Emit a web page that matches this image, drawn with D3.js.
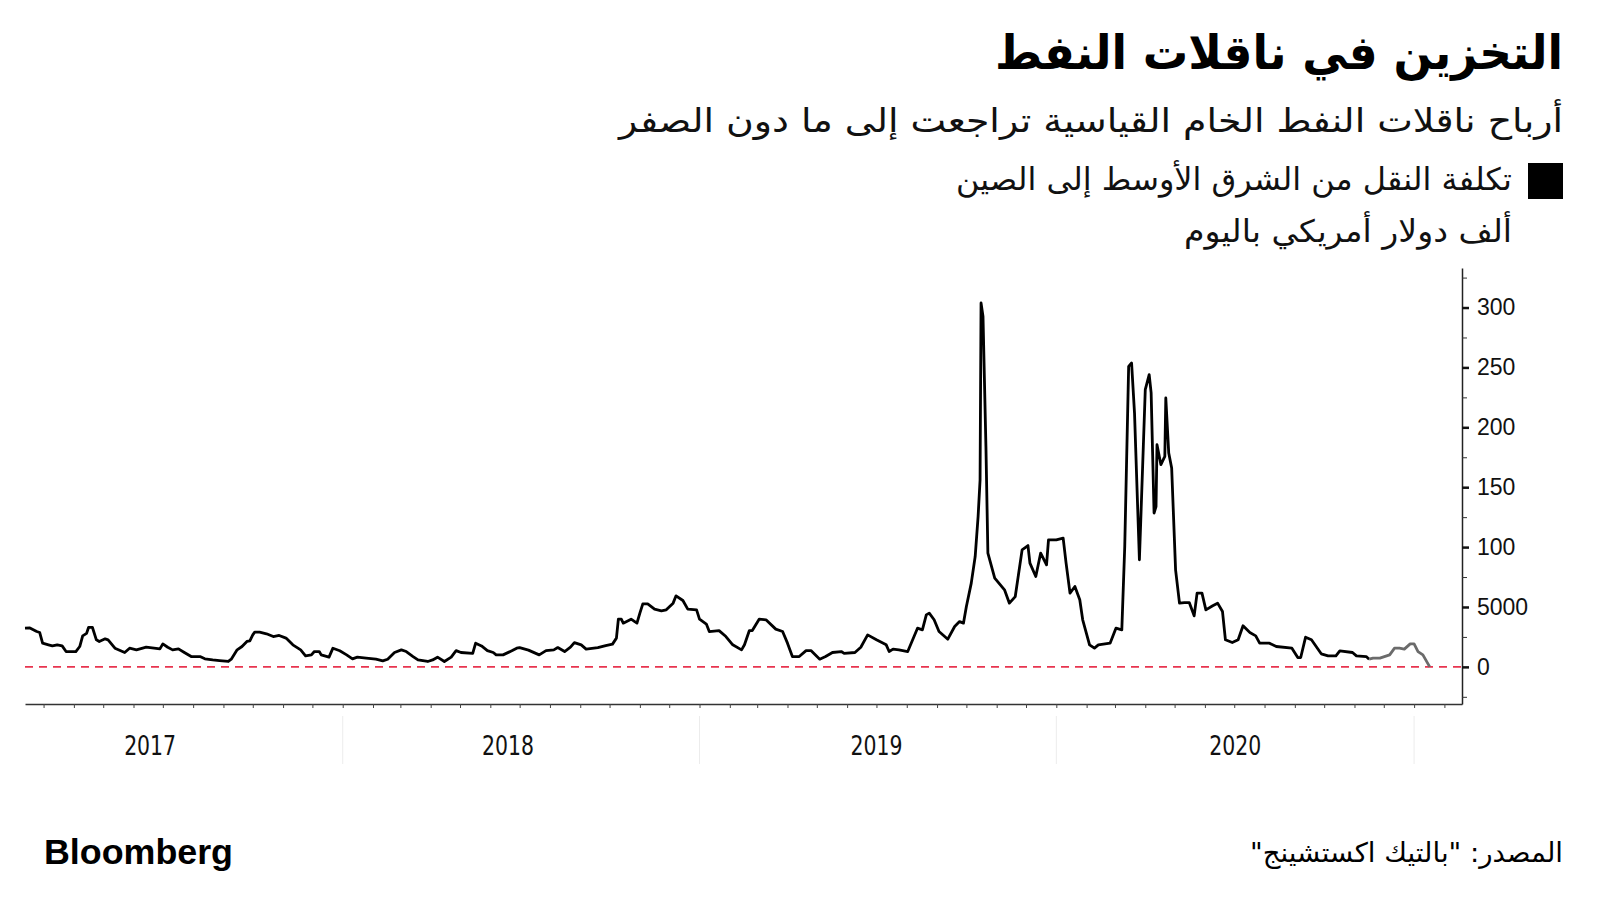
<!DOCTYPE html>
<html><head><meta charset="utf-8">
<script src="https://cdn.jsdelivr.net/npm/d3@7"></script>
<style>
html,body{margin:0;padding:0;background:#fff;}
svg{display:block;}
</style></head>
<body>
<script>
// ---- Data (thousand USD / day) ----
const dates2017 = [
"2017-02-10","2017-02-15","2017-02-22","2017-02-25","2017-02-28","2017-03-06","2017-03-10","2017-03-15","2017-03-20","2017-03-24",
"2017-04-03","2017-04-07","2017-04-10","2017-04-14","2017-04-16","2017-04-20","2017-04-24","2017-04-27","2017-05-03","2017-05-06",
"2017-05-13","2017-05-23","2017-05-28","2017-06-04","2017-06-14","2017-06-28","2017-07-01","2017-07-06","2017-07-11","2017-07-17",
"2017-07-23","2017-07-30","2017-08-08","2017-08-13","2017-08-21","2017-08-28","2017-09-06","2017-09-09","2017-09-15","2017-09-20",
"2017-09-25","2017-09-28","2017-10-01","2017-10-03","2017-10-08","2017-10-15","2017-10-22","2017-10-28","2017-11-04","2017-11-11",
"2017-11-19","2017-11-24","2017-11-30","2017-12-03","2017-12-08","2017-12-10","2017-12-18","2017-12-22","2017-12-29"];
const values2017 = [
32.3,32.5,29.5,28.7,19.8,18.4,17.5,18.4,17.5,12.8,
12.8,17,25.9,28,32.9,32.9,22.6,21.2,23.4,22.6,
15.6,12,15.6,14.2,16.4,15,19.2,16.4,14.2,15,
12,8.6,8.6,6.7,5.8,5.3,4.5,6.4,14.2,17,
21.2,21.7,26.7,29,29,27.6,25.3,26.2,24,18.4,
14.2,9.2,10,12.8,12.8,10,8.1,15.6,13.4];

const dates2018 = [
"2018-01-05","2018-01-11","2018-01-16","2018-01-25","2018-02-04","2018-02-11","2018-02-16","2018-02-23","2018-03-02","2018-03-07",
"2018-03-14","2018-03-19","2018-03-29","2018-04-03","2018-04-08","2018-04-15","2018-04-22","2018-04-27","2018-05-02","2018-05-14",
"2018-05-17","2018-05-23","2018-05-29","2018-06-04","2018-06-07","2018-06-14","2018-06-23","2018-06-28","2018-07-01","2018-07-10",
"2018-07-21","2018-07-28","2018-08-05","2018-08-09","2018-08-16","2018-08-22","2018-08-26","2018-09-02","2018-09-07","2018-09-19",
"2018-09-27","2018-10-04","2018-10-08","2018-10-10","2018-10-13","2018-10-15","2018-10-23","2018-10-29","2018-11-01","2018-11-04",
"2018-11-09","2018-11-16","2018-11-23","2018-11-28","2018-12-05","2018-12-08","2018-12-15","2018-12-20","2018-12-29"];
const values2018 = [
10,6.7,8.1,7.3,6.4,5,6.4,12,14.2,12.8,
8.6,5.8,4.5,5.8,8.1,4.5,8.1,13.6,12,11.2,
19.8,17.5,13.6,12,10,10,13.4,15.6,16.1,14,
10,13.6,14.2,16.1,12.8,16.4,20.3,18.4,14.8,16.1,
17.8,19,24,39.8,39.8,36.5,39.8,36.5,44.9,52.6,
52.6,48.2,46.8,47.6,53.2,59.3,55.4,48.2,47.6];

const dates2019 = [
"2019-01-01","2019-01-08","2019-01-11","2019-01-21","2019-01-28","2019-02-04","2019-02-13","2019-02-16","2019-02-21","2019-02-24",
"2019-03-03","2019-03-10","2019-03-20","2019-03-27","2019-04-01","2019-04-06","2019-04-13","2019-04-20","2019-04-25","2019-05-04",
"2019-05-10","2019-05-17","2019-05-26","2019-05-29","2019-06-09","2019-06-15","2019-06-22","2019-07-01","2019-07-11","2019-07-14",
"2019-07-18","2019-07-24","2019-08-02","2019-08-12","2019-08-17","2019-08-21","2019-08-24","2019-08-29","2019-09-03","2019-09-12",
"2019-09-19","2019-09-24","2019-09-28","2019-10-01","2019-10-06","2019-10-10","2019-10-13","2019-10-15","2019-10-16","2019-10-18",
"2019-10-21","2019-10-23","2019-10-30","2019-11-09","2019-11-14","2019-11-20","2019-11-27","2019-12-03","2019-12-05","2019-12-11",
"2019-12-16","2019-12-22","2019-12-24"];
const values2019 = [
39.8,35.7,29.5,30.3,25.3,18.4,14.2,18.4,30.3,30.3,
39.8,39.3,31.5,29.5,19.8,8.6,8.6,13.6,13.6,6.4,
8.6,12,12.8,11.2,12,16.4,26.7,22.6,18.4,12.8,
14.8,14.2,12.8,32.3,30.9,43.4,44.9,39.3,29.5,23.1,
33.7,37.8,36.5,50.4,69.9,92.1,125.6,156,303.8,292.6,
184,95,74.1,64.3,53.2,58.7,97.7,101.3,86.6,75.4,
95,85.2,106.1];

const dates2020 = [
"2020-01-01","2020-01-08","2020-01-11","2020-01-15","2020-01-20","2020-01-25","2020-01-28","2020-02-04","2020-02-09","2020-02-13",
"2020-02-25","2020-03-02","2020-03-08","2020-03-11","2020-03-15","2020-03-18","2020-03-21","2020-03-26","2020-03-30","2020-04-01",
"2020-04-05","2020-04-07","2020-04-10","2020-04-12","2020-04-13","2020-04-17","2020-04-21","2020-04-22","2020-04-25","2020-04-28",
"2020-05-02","2020-05-06","2020-05-11","2020-05-16","2020-05-21","2020-05-24","2020-05-29","2020-06-02","2020-06-09","2020-06-14",
"2020-06-19","2020-06-22","2020-06-29","2020-07-05","2020-07-10","2020-07-17","2020-07-23","2020-07-27","2020-08-06","2020-08-13",
"2020-08-29","2020-09-04","2020-09-07","2020-09-12","2020-09-18","2020-09-28","2020-10-05","2020-10-13","2020-10-17","2020-10-30",
"2020-11-03","2020-11-13","2020-11-16"];
const values2020 = [
106.1,107.5,86.6,61.6,67.1,56,39.3,18.4,15.6,18.4,
19.8,32.3,30.9,100.5,250.9,253.7,211.9,89.4,184,231.4,
243.9,228.7,128.4,133.9,185.5,168.8,175.7,224.5,178.5,166,
81,53.2,53.7,53.7,42.6,61.6,61.6,47.6,51,53.2,
46.2,22.6,20.3,22.6,34.3,28.7,25.9,19.8,19.8,17,
15.6,7.8,7.8,24.8,22.6,10.9,9.2,9.2,13.4,12,
9.2,8.6,6.4];

// latest (grey) segment
const datesLatest = ["2020-11-16","2020-11-20","2020-11-27","2020-12-07","2020-12-12","2020-12-17","2020-12-22","2020-12-28","2021-01-01","2021-01-05","2021-01-10","2021-01-17"];
const valuesLatest = [6.4,7.3,7.3,10,15.6,15.6,14.8,19.2,19.2,12.8,10,0];

const yTickValues = [0,50,100,150,200,250,300];
const yTickLabels = ["0","5000","100","150","200","250","300"];
const yMinorValues = [-25,25,75,125,175,225,275,325];
const yearLabels = ["2017","2018","2019","2020"];
const yearLabelDates = ["2017-06-18","2018-06-19","2019-07-01","2020-07-02"];
const yearSeparators = ["2018-01-01","2019-01-01","2020-01-01","2021-01-01"];

const titleText = "التخزين في ناقلات النفط";
const subtitleText = "أرباح ناقلات النفط الخام القياسية تراجعت إلى ما دون الصفر";
const legendText = "تكلفة النقل من الشرق الأوسط إلى الصين";
const unitText = "ألف دولار أمريكي باليوم";
const sourceText = "المصدر: \"بالتيك اكستشينج\"\u200F";

// ---- Build ----
const parse = d3.utcParse("%Y-%m-%d");
const zip = (ds, vs) => ds.map((d,i)=>({date: parse(d), value: vs[i]}));
const mainData = [].concat(zip(dates2017,values2017), zip(dates2018,values2018), zip(dates2019,values2019), zip(dates2020,values2020));
const latestData = zip(datesLatest, valuesLatest);

const W = 1600, H = 900;
const svg = d3.select("body").append("svg").attr("width", W).attr("height", H);

const x = d3.scaleUtc().domain([parse("2017-02-10"), parse("2021-02-19")]).range([25, 1462]);
const y = d3.scaleLinear().domain([-31, 333]).range([704, 268]);

// Titles
const arabic = "'DejaVu Sans', 'Noto Sans', sans-serif";
function rtext(txt, xr, yb, size, weight, len, fill){
  svg.append("text").attr("x", xr).attr("y", yb)
    .attr("text-anchor","end")
    .style("font-family", arabic).style("font-size", size+"px").style("font-weight", weight)
    .attr("fill", fill || "#000")
    .attr("textLength", len).attr("lengthAdjust","spacingAndGlyphs")
    .text(txt);
}
rtext(titleText, 1563, 69, 47, "bold", 568);
rtext(subtitleText, 1563, 132, 33, "normal", 944, "#111");
svg.append("rect").attr("x",1528).attr("y",163).attr("width",35).attr("height",36).attr("fill","#000");
rtext(legendText, 1512, 190, 31, "normal", 556, "#111");
rtext(unitText, 1512, 242, 31, "normal", 328, "#111");
rtext(sourceText, 1563, 862, 27, "normal", 313, "#000");

svg.append("text").attr("x",44).attr("y",864)
  .style("font-family","'Liberation Sans', Arial, sans-serif").style("font-size","35px").style("font-weight","bold")
  .attr("textLength",189).attr("lengthAdjust","spacingAndGlyphs")
  .attr("fill","#000").text("Bloomberg");

// Zero line
svg.append("line").attr("x1", x.range()[0]).attr("x2", x.range()[1])
  .attr("y1", y(0)).attr("y2", y(0))
  .attr("stroke","#e8344f").attr("stroke-width",1.6).attr("stroke-dasharray","8,6");

// X axis
const xAxis = d3.axisBottom(x).ticks(d3.utcMonth.every(1)).tickFormat("").tickSize(4).tickSizeOuter(0);
const gx = svg.append("g").attr("transform", `translate(0,${y.range()[0]})`).call(xAxis);
gx.select(".domain").attr("stroke","#333").attr("stroke-width",1.5);
gx.selectAll(".tick line").attr("stroke","#444").attr("stroke-width",1);

// year separators
svg.selectAll(".sep").data(yearSeparators).enter().append("line")
  .attr("x1", d=>x(parse(d))).attr("x2", d=>x(parse(d)))
  .attr("y1", 716).attr("y2", 764).attr("stroke","#ececec").attr("stroke-width",1);

svg.selectAll(".yl").data(yearLabels).enter().append("text")
  .attr("x", (d,i)=>x(parse(yearLabelDates[i]))).attr("y", 755)
  .attr("text-anchor","middle")
  .style("font-family","'DejaVu Sans Condensed','DejaVu Sans',sans-serif").style("font-size","27px")
  .attr("textLength",52).attr("lengthAdjust","spacingAndGlyphs")
  .attr("fill","#111").text(d=>d);

// Y axis (right)
const yAxis = d3.axisRight(y).tickValues(yTickValues).tickFormat((d,i)=>yTickLabels[i]).tickSize(7).tickPadding(8).tickSizeOuter(0);
const gy = svg.append("g").attr("transform", `translate(${x.range()[1]},0)`).call(yAxis);
gy.select(".domain").attr("stroke","#222").attr("stroke-width",1.5);
gy.selectAll(".tick line").attr("stroke","#111").attr("stroke-width",2.5);
gy.selectAll(".tick text").style("font-family","'Liberation Sans', Arial, sans-serif").style("font-size","23px").attr("fill","#111");
const yMinor = d3.axisRight(y).tickValues(yMinorValues).tickFormat("").tickSize(5).tickSizeOuter(0);
const gym = svg.append("g").attr("transform", `translate(${x.range()[1]},0)`).call(yMinor);
gym.select(".domain").remove();
gym.selectAll(".tick line").attr("stroke","#333").attr("stroke-width",1);

// Lines
const line = d3.line().x(d=>x(d.date)).y(d=>y(d.value)).curve(d3.curveLinear);
svg.append("path").datum(mainData).attr("d", line)
  .attr("fill","none").attr("stroke","#000").attr("stroke-width",2.8).attr("stroke-linejoin","round");
svg.append("path").datum(latestData).attr("d", line)
  .attr("fill","none").attr("stroke","#6b6b6b").attr("stroke-width",2.8).attr("stroke-linejoin","round");
</script>
</body></html>
